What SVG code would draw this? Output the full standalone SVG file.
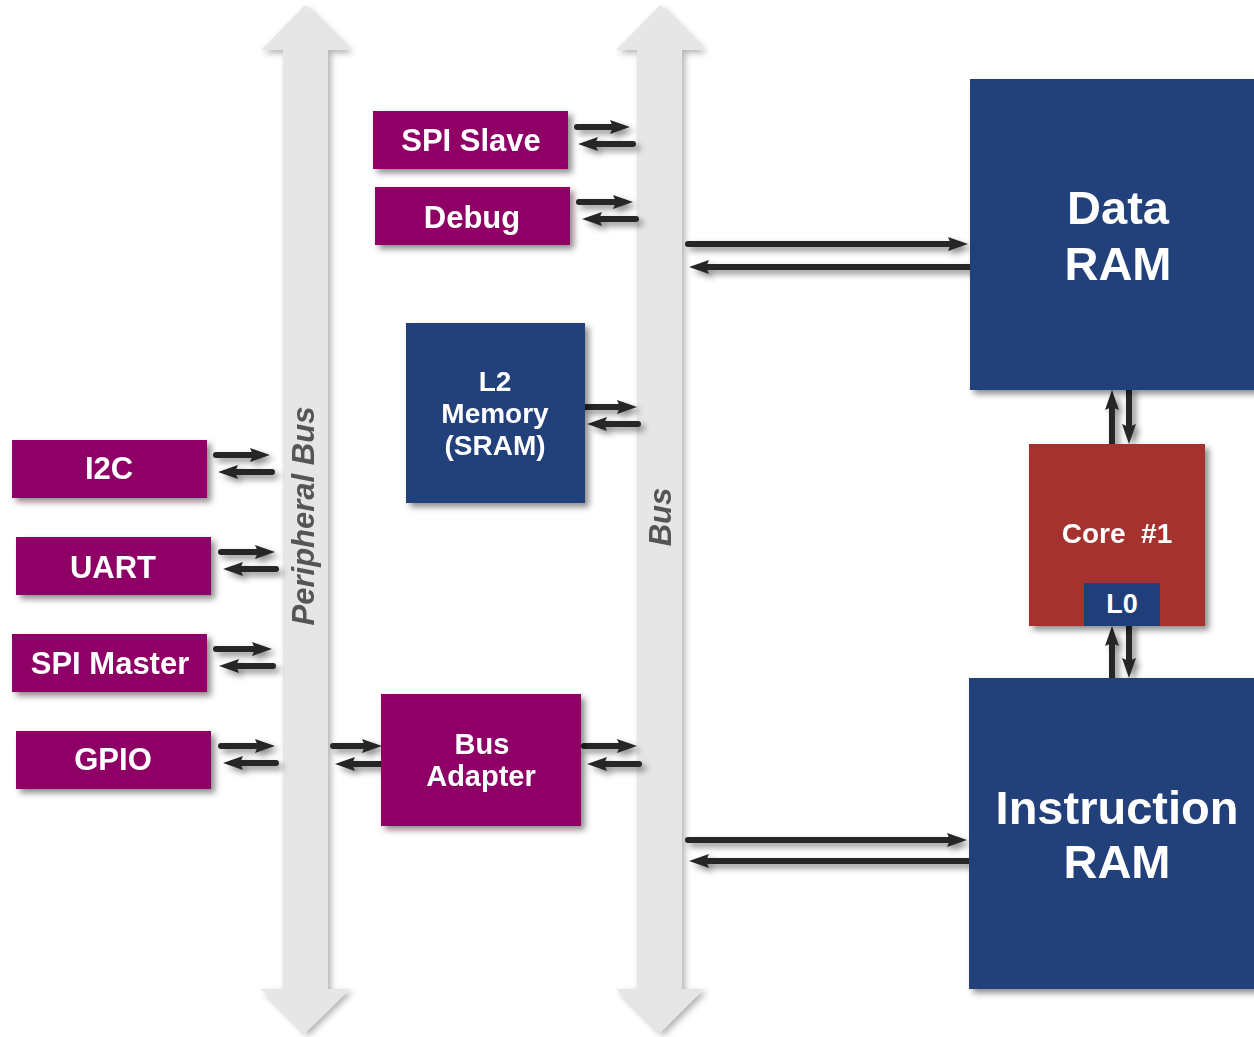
<svg xmlns="http://www.w3.org/2000/svg" width="1254" height="1037" viewBox="0 0 1254 1037">
<defs>
<filter id="sh" x="-20%" y="-20%" width="150%" height="150%">
<feDropShadow dx="4" dy="4" stdDeviation="3" flood-color="#000" flood-opacity="0.45"/>
</filter>
<filter id="shb" x="-20%" y="-5%" width="150%" height="110%">
<feDropShadow dx="3" dy="3" stdDeviation="3" flood-color="#000" flood-opacity="0.3"/>
</filter>
<marker id="ah" markerUnits="userSpaceOnUse" markerWidth="22" markerHeight="14" refX="10" refY="7" orient="auto">
<path d="M0,0 L20,7 L0,14 L3,7 z" fill="#262626"/>
</marker>
</defs>
<style>
.p{fill:#8e0066}
.b{fill:#203f7a}
.r{fill:#a5302e}
.bus{fill:#e6e6e6}
.t{font-family:"Liberation Sans",Arial,sans-serif;font-weight:bold;fill:#ffffff;text-anchor:middle}
.bl{font-family:"Liberation Sans",Arial,sans-serif;font-weight:bold;font-style:italic;fill:#555555;text-anchor:middle;font-size:31px}
.c{stroke:#262626;stroke-width:6;stroke-linecap:round;fill:none;marker-end:url(#ah)}
</style>
<rect width="1254" height="1037" fill="#ffffff"/>
<g id="peripheral-bus" filter="url(#shb)">
<polygon class="bus" points="305,5 350,50 328,50 328,989 350,989 305,1033 261,989 283,989 283,50 261,50"/>
<text class="bl" transform="translate(314,516) rotate(-90)">Peripheral Bus</text>
</g>
<g id="bus" filter="url(#shb)">
<polygon class="bus" points="660,5 704,50 682,50 682,989 704,989 660,1033 616,989 637,989 637,50 616,50"/>
<text class="bl" transform="translate(671,517) rotate(-90)">Bus</text>
</g>
<g id="connectors" filter="url(#sh)">
<line class="c" x1="577" y1="127" x2="620" y2="127"/>
<line class="c" x1="633" y1="144" x2="588" y2="144"/>
<line class="c" x1="579" y1="202" x2="623" y2="202"/>
<line class="c" x1="636" y1="219" x2="592" y2="219"/>
<line class="c" x1="586" y1="407" x2="627" y2="407"/>
<line class="c" x1="638" y1="424" x2="597" y2="424"/>
<line class="c" x1="216" y1="455" x2="260" y2="455"/>
<line class="c" x1="272" y1="472" x2="228" y2="472"/>
<line class="c" x1="221" y1="552" x2="265" y2="552"/>
<line class="c" x1="276" y1="569" x2="233" y2="569"/>
<line class="c" x1="216" y1="649" x2="262" y2="649"/>
<line class="c" x1="273" y1="666" x2="229" y2="666"/>
<line class="c" x1="221" y1="746" x2="265" y2="746"/>
<line class="c" x1="276" y1="763" x2="233" y2="763"/>
<line class="c" x1="333" y1="746" x2="372" y2="746"/>
<line class="c" x1="381" y1="764" x2="345" y2="764"/>
<line class="c" x1="584" y1="746" x2="627" y2="746"/>
<line class="c" x1="639" y1="764" x2="597" y2="764"/>
<line class="c" x1="688" y1="244" x2="958" y2="244"/>
<line class="c" x1="970" y1="267" x2="699" y2="267"/>
<line class="c" x1="688" y1="840" x2="957" y2="840"/>
<line class="c" x1="969" y1="861" x2="699" y2="861"/>
<line class="c" x1="1112" y1="444" x2="1112" y2="400"/>
<line class="c" x1="1129" y1="390" x2="1129" y2="434"/>
<line class="c" x1="1112" y1="678" x2="1112" y2="636"/>
<line class="c" x1="1129" y1="626" x2="1129" y2="668"/>
</g>
<g id="spi-slave" filter="url(#sh)"><rect class="p" x="373" y="111" width="195" height="58"/><text class="t" x="471" y="151" font-size="31">SPI Slave</text></g>
<g id="debug" filter="url(#sh)"><rect class="p" x="375" y="187" width="195" height="58"/><text class="t" x="472" y="228" font-size="31">Debug</text></g>
<g id="l2-memory" filter="url(#sh)"><rect class="b" x="406" y="323" width="179" height="180"/>
<text class="t" font-size="28"><tspan x="495" y="391">L2</tspan><tspan x="495" y="423">Memory</tspan><tspan x="495" y="455">(SRAM)</tspan></text></g>
<g id="i2c" filter="url(#sh)"><rect class="p" x="12" y="440" width="195" height="58"/><text class="t" x="109" y="479" font-size="31">I2C</text></g>
<g id="uart" filter="url(#sh)"><rect class="p" x="16" y="537" width="195" height="58"/><text class="t" x="113" y="578" font-size="31">UART</text></g>
<g id="spi-master" filter="url(#sh)"><rect class="p" x="12" y="634" width="195" height="58"/><text class="t" x="110" y="674" font-size="31">SPI Master</text></g>
<g id="gpio" filter="url(#sh)"><rect class="p" x="16" y="731" width="195" height="58"/><text class="t" x="113" y="770" font-size="31">GPIO</text></g>
<g id="bus-adapter" filter="url(#sh)"><rect class="p" x="381" y="694" width="200" height="132"/>
<text class="t" font-size="29"><tspan x="482" y="754">Bus</tspan><tspan x="481" y="786">Adapter</tspan></text></g>
<g id="data-ram" filter="url(#sh)"><rect class="b" x="970" y="79" width="290" height="311"/>
<text class="t" font-size="47"><tspan x="1118" y="224">Data</tspan><tspan x="1118" y="280">RAM</tspan></text></g>
<g id="instruction-ram" filter="url(#sh)"><rect class="b" x="969" y="678" width="291" height="311"/>
<text class="t" font-size="47"><tspan x="1117" y="824">Instruction</tspan><tspan x="1117" y="878">RAM</tspan></text></g>
<g id="core-1" filter="url(#sh)"><rect class="r" x="1029" y="444" width="176" height="182"/>
<text class="t" x="1117" y="543" font-size="28" xml:space="preserve">Core  #1</text></g>
<g id="l0"><rect class="b" x="1084" y="583" width="76" height="43"/><text class="t" x="1122" y="613" font-size="27">L0</text></g>
</svg>
